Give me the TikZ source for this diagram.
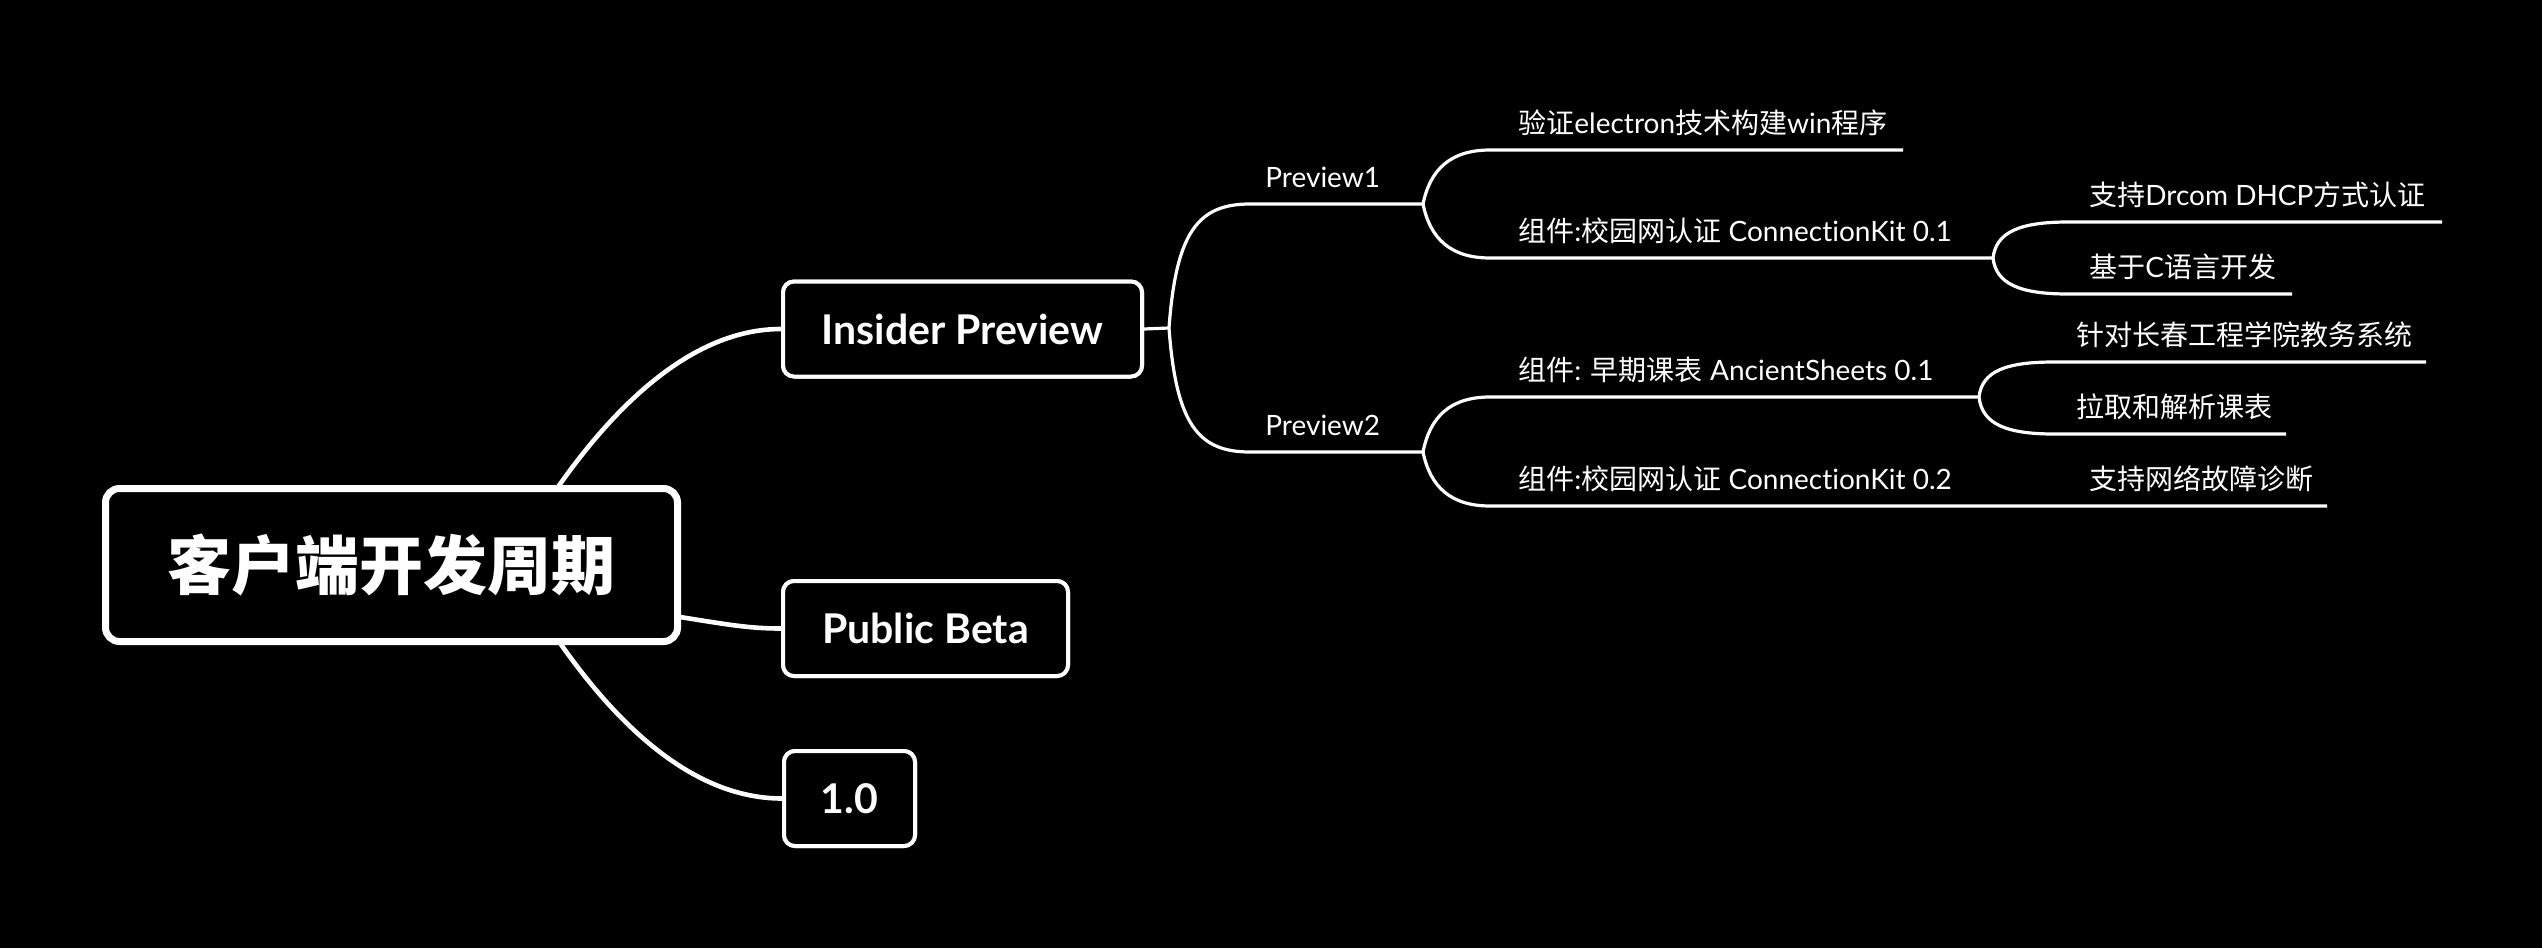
\documentclass[tikz,border=0pt]{standalone}
\usepackage{fontspec}
\setmainfont{Lato}[Ligatures={NoCommon,NoRequired,NoContextual}]
\newfontfamily\cjk{Noto Sans CJK SC}
\begin{document}
\begin{tikzpicture}[x=0.5pt,y=-0.5pt,
  rootbox/.style={draw=white,line width=3.5pt,rounded corners=7pt,fill=black,text=white,
    inner sep=0pt,minimum width=286pt,minimum height=76.5pt,
    font=\cjk\bfseries\fontsize{32}{36}\selectfont},
  subbox/.style={draw=white,line width=2pt,rounded corners=5.5pt,fill=black,text=white,
    inner sep=0pt,minimum height=47.5pt,font=\bfseries\fontsize{20.5}{23}\selectfont},
  conn/.style={draw=white,line width=2.3pt},
  thin/.style={draw=white,line width=1.6pt},
  lbl/.style={text=white,anchor=base west,inner sep=0pt,font=\fontsize{14}{16}\selectfont}]
\fill[black] (0,0) rectangle (2542,948);
\useasboundingbox (0,0) rectangle (2542,948);

% coordinates
\coordinate (r1) at (558,487);
\coordinate (r2) at (680,617);
\coordinate (r3) at (560,643);
\coordinate (f0) at (1169,328);
\coordinate (p1e) at (1423,204);
\coordinate (p2e) at (1423,452);
\coordinate (e1) at (1903,150);
\coordinate (c01) at (1993,258);
\coordinate (e3) at (2442,222);
\coordinate (e4) at (2292,294);
\coordinate (anc) at (1979,397);
\coordinate (e6) at (2426,362);
\coordinate (e7) at (2286,434);
\coordinate (e8) at (2327,506);

% box positions (for connector anchors)
\path (962.5,329) node[subbox,minimum width=179.5pt] (ins) {Insider Preview};
\path (925.5,628.5) node[subbox,minimum width=142.5pt] (pub) {Public Beta};
\path (849.5,798.5) node[subbox,minimum width=65.5pt] (one) {1.0};

% connectors from root
\draw[conn] (r1) .. controls (612,410) and (690,329) .. (ins.west);
\draw[conn] (r2) .. controls (730,625) and (750,628.5) .. (pub.west);
\draw[conn] (r3) .. controls (614,720) and (690,798.5) .. (one.west);

% root box
\path (391.5,565) node[rootbox] (root) {客户端开发周期};
% boxes drawn again on top of connector ends
\path (962.5,329) node[subbox,minimum width=179.5pt] (insb) {Insider Preview};
\path (925.5,628.5) node[subbox,minimum width=142.5pt] (pubb) {Public Beta};
\path (849.5,798.5) node[subbox,minimum width=65.5pt] (oneb) {1.0};

% insider branches
\draw[thin] (ins.east) -- (f0);
\draw[thin] (f0) .. controls (1176,232) and (1198,204) .. (1250,204) -- (p1e);
\draw[thin] (f0) .. controls (1176,424) and (1198,452) .. (1250,452) -- (p2e);

% Preview1 children
\draw[thin] (p1e) .. controls (1430,170) and (1450,150) .. (1490,150) -- (e1);
\draw[thin] (p1e) .. controls (1430,238) and (1450,258) .. (1490,258) -- (c01);
\draw[thin] (c01) .. controls (1996,232) and (2020,222) .. (2068,222) -- (e3);
\draw[thin] (c01) .. controls (1996,284) and (2020,294) .. (2068,294) -- (e4);

% Preview2 children
\draw[thin] (p2e) .. controls (1430,417) and (1450,397) .. (1490,397) -- (anc);
\draw[thin] (p2e) .. controls (1430,486) and (1450,506) .. (1490,506) -- (e8);
\draw[thin] (anc) .. controls (1982,371) and (2006,362) .. (2054,362) -- (e6);
\draw[thin] (anc) .. controls (1982,424) and (2006,434) .. (2054,434) -- (e7);

% labels
\node[lbl] (p1) at (1265,187) {Preview1};
\node[lbl] (p2) at (1265,435) {Preview2};
\node[lbl] (t1) at (1518,133) {{\cjk 验证}electron{\cjk 技术构建}win{\cjk 程序}};
\node[lbl] (t2) at (1518,241) {{\cjk 组件}:{\cjk 校园网认证} ConnectionKit 0.1};
\node[lbl] (t3) at (2089,205) {{\cjk 支持}Drcom DHCP{\cjk 方式认证}};
\node[lbl] (t4) at (2089,277) {{\cjk 基于}C{\cjk 语言开发}};
\node[lbl] (t5) at (1518,380) {{\cjk 组件}: {\cjk 早期课表} AncientSheets 0.1};
\node[lbl] (t6) at (2076,345) {\cjk 针对长春工程学院教务系统};
\node[lbl] (t7) at (2076,417) {\cjk 拉取和解析课表};
\node[lbl] (t8) at (1518,489) {{\cjk 组件}:{\cjk 校园网认证} ConnectionKit 0.2};
\node[lbl] (t9) at (2089,489) {\cjk 支持网络故障诊断};
\end{tikzpicture}
\end{document}
